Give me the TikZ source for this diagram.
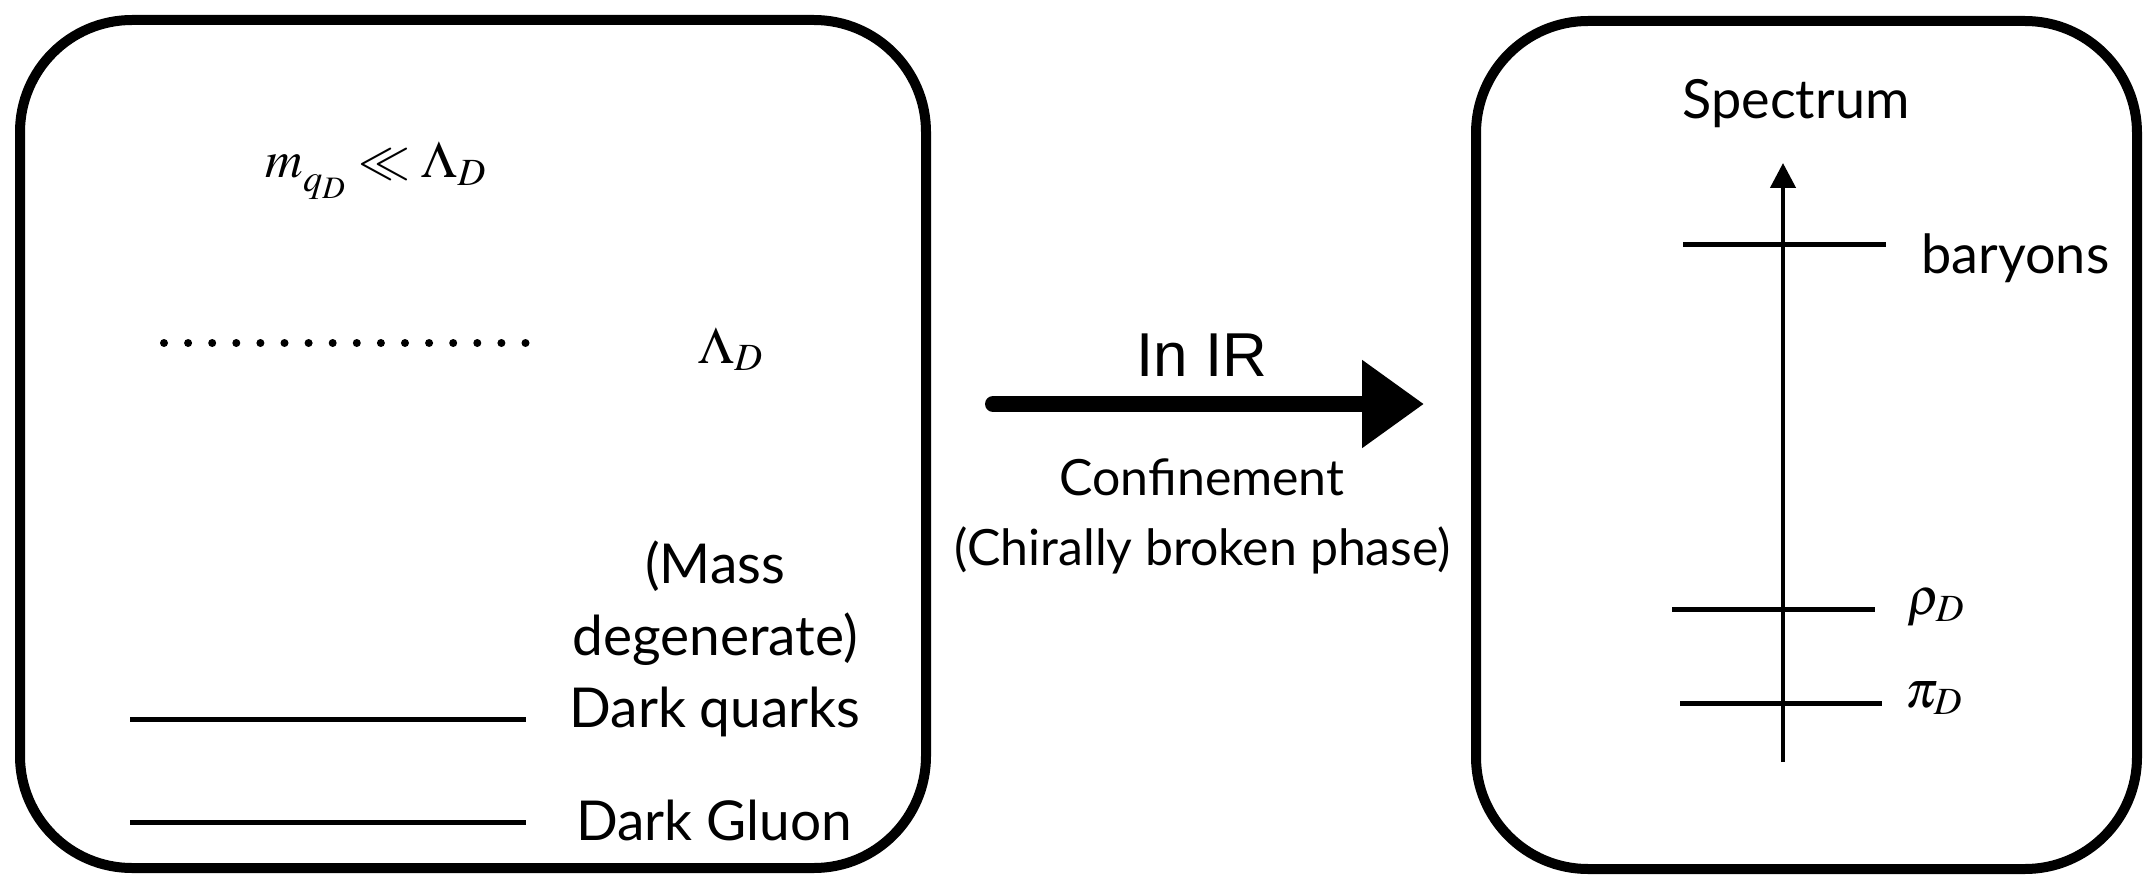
\documentclass[tikz,border=0pt]{standalone}
\usepackage{mathptmx}
\usepackage[no-math]{fontspec}
\newfontfamily\av{Lato}
\newfontfamily\hv{Liberation Sans}
\usetikzlibrary{arrows.meta}
\begin{document}
\begin{tikzpicture}[x=0.5pt,y=-0.5pt,
  box/.style={draw, line width=5pt, rounded corners=56pt, minimum width=#1, minimum height=424pt, inner sep=0pt},
  lbl/.style={font=\av\fontsize{25}{30}\selectfont, inner sep=0pt, anchor=base},
  llbl/.style={font=\av\fontsize{27.5}{32}\selectfont, inner sep=0pt, anchor=base},
  rlbl/.style={font=\av\fontsize{27}{32}\selectfont, inner sep=0pt},
  mth/.style={font=\fontsize{26}{30}\selectfont, inner sep=0pt, anchor=base},
  level/.style={line width=2.5pt},
  dotline/.style={line width=4pt, line cap=round, dash pattern=on 0pt off 12.05pt},
  axisline/.style={line width=2.2pt, -{Triangle[length=12.5pt,width=12.5pt]}},
  bigarrow/.style={line width=8pt, line cap=round, -{Triangle[length=31pt,width=42pt]}}
]
\useasboundingbox (0,0) rectangle (2146,882);
% boxes
\node[box=453pt] (L) at (473,444) {};
\node[box=330.5pt] (R) at (1806.5,445) {};
% left box contents
\node[mth] (cond) at (376,178) {$m_{\lower3pt\hbox{$\scriptstyle q_D$}}\ll\Lambda_D$};
\coordinate (d0) at (164,343);
\coordinate (d1) at (529,343);
\draw[dotline] (d0) -- (d1);
\node[mth] (lam) at (731,363) {$\Lambda_D$};
\node[llbl] (mass) at (715,583) {(Mass};
\node[llbl] (deg) at (715,655) {degenerate)};
\coordinate (q0) at (130,719);
\coordinate (q1) at (526,719);
\draw[level] (q0) -- (q1);
\node[llbl] (dq) at (715,727) {Dark quarks};
\coordinate (g0) at (130,822);
\coordinate (g1) at (526,822);
\draw[level] (g0) -- (g1);
\node[llbl] (dg) at (714,840) {Dark Gluon};
% middle arrow
\coordinate (a0) at (993,404);
\coordinate (a1) at (1424,404);
\draw[bigarrow] (a0) -- (a1);
\node[font=\hv\fontsize{31}{36}\selectfont, inner sep=0pt, anchor=base] (ir) at (1202,376) {In IR};
\node[lbl] (conf) at (1202,495) {Confinement};
\node[lbl] (chir) at (1203,565) {(Chirally broken phase)};
% right box contents
\node[rlbl, anchor=base] (spec) at (1796,119) {Spectrum};
\coordinate (ax0) at (1783,762);
\coordinate (ax1) at (1783,163);
\draw[axisline] (ax0) -- (ax1);
\coordinate (b0) at (1683,245);
\coordinate (b1) at (1886,245);
\draw[level] (b0) -- (b1);
\node[rlbl, anchor=base west] (bar) at (1921,273) {baryons};
\coordinate (r0) at (1672,609);
\coordinate (r1) at (1875,609);
\draw[level] (r0) -- (r1);
\node[mth, anchor=base west] (rho) at (1907,614) {$\rho_D$};
\coordinate (p0) at (1680,703);
\coordinate (p1) at (1882,703);
\draw[level] (p0) -- (p1);
\node[mth, anchor=base west] (pi) at (1905,707) {$\pi_D$};
\end{tikzpicture}
\end{document}
